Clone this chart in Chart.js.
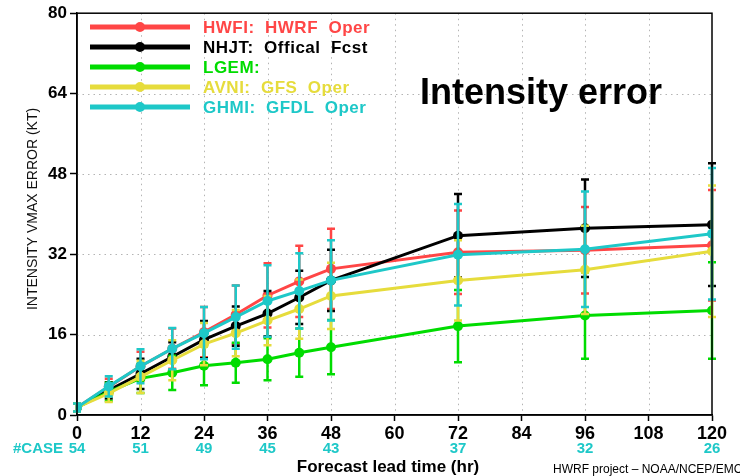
<!DOCTYPE html>
<html>
<head>
<meta charset="utf-8">
<script src="https://cdn.jsdelivr.net/npm/chart.js@4"></script>
<style>
  html, body { margin: 0; padding: 0; background: #fff; }
  #wrap { width: 740px; height: 476px; position: relative; }
</style>
</head>
<body>
<div id="wrap"><canvas id="c" width="740" height="476"></canvas></div>
<script>
// ---- data ----
const hours = [0, 6, 12, 18, 24, 30, 36, 42, 48, 72, 96, 120];

const hwfiMean = [1.5, 5.6, 9.7, 13.2, 16.5, 20.0, 23.8, 26.6, 29.1, 32.4, 32.8, 33.8];
const hwfiErr  = [0.8, 1.6, 2.9, 4.0, 5.0, 5.8, 6.4, 7.1, 8.0, 8.3, 8.6, 11.0];

const nhjtMean = [1.5, 4.9, 8.2, 11.6, 15.0, 17.7, 20.2, 23.4, 26.8, 35.7, 37.2, 37.9];
const nhjtErr  = [0.8, 1.6, 3.0, 2.9, 3.7, 3.9, 4.5, 5.3, 6.1, 8.3, 9.7, 12.2];

const lgemMean = [1.5, 4.6, 7.3, 8.4, 9.8, 10.4, 11.1, 12.4, 13.5, 17.7, 19.8, 20.8];
const lgemErr  = [0.8, 1.8, 2.9, 3.4, 3.9, 4.0, 4.2, 4.8, 5.4, 7.2, 8.6, 9.6];

const avniMean = [1.5, 4.3, 7.6, 10.9, 14.1, 16.3, 18.8, 21.1, 23.7, 26.8, 28.9, 32.6];
const avniErr  = [0.8, 1.7, 3.2, 4.0, 4.2, 4.6, 4.9, 5.9, 6.6, 8.0, 8.8, 13.1];

const ghmiMean = [1.5, 5.7, 9.7, 13.2, 16.3, 19.5, 22.7, 24.7, 26.8, 31.9, 33.0, 36.1];
const ghmiErr  = [0.8, 2.0, 3.4, 4.1, 5.2, 6.3, 7.1, 7.5, 8.0, 10.1, 11.5, 13.1];

const seriesLabels = ['HWFI:  HWRF  Oper', 'NHJT:  Offical  Fcst', 'LGEM:', 'AVNI:  GFS  Oper', 'GHMI:  GFDL  Oper'];
const seriesColors = ['#ff4646', '#000000', '#00dc00', '#e6dc3c', '#1ec8c8'];

const yTickValues = [0, 16, 32, 48, 64, 80];
const xTickValues = [0, 12, 24, 36, 48, 60, 72, 84, 96, 108, 120];

const caseHours  = [0, 12, 24, 36, 48, 72, 96, 120];
const caseCounts = [54, 51, 49, 45, 43, 37, 32, 26];

const titleText  = 'Intensity error';
const xTitleText = 'Forecast lead time (hr)';
const yTitleText = 'INTENSITY VMAX ERROR (KT)';
const caseLabel  = '#CASE';
const creditText = 'HWRF project – NOAA/NCEP/EMC';

// ---- build ----
const means = [hwfiMean, nhjtMean, lgemMean, avniMean, ghmiMean];
const errs  = [hwfiErr, nhjtErr, lgemErr, avniErr, ghmiErr];

const FONT = "'Liberation Sans', Arial, sans-serif";

const datasets = means.map((m, k) => ({
  label: seriesLabels[k],
  data: hours.map((h, i) => ({ x: h, y: m[i] })),
  errors: errs[k],
  borderColor: seriesColors[k],
  backgroundColor: seriesColors[k],
  pointBackgroundColor: seriesColors[k],
  pointBorderWidth: 0,
  pointRadius: 5,
  borderWidth: 3,
  tension: 0,
  order: 5 - k
}));

const gridPlugin = {
  id: 'dotGrid',
  beforeDatasetsDraw(chart) {
    const { ctx, chartArea: a, scales: { x, y } } = chart;
    ctx.save();
    ctx.strokeStyle = '#b4b4b4';
    ctx.lineWidth = 1;
    ctx.setLineDash([1.5, 4]);
    xTickValues.forEach(v => {
      const px = Math.round(x.getPixelForValue(v)) + 0.5;
      if (px <= a.left + 1 || px >= a.right - 1) return;
      ctx.beginPath(); ctx.moveTo(px, a.top); ctx.lineTo(px, a.bottom); ctx.stroke();
    });
    yTickValues.forEach(v => {
      const py = Math.round(y.getPixelForValue(v)) + 0.5;
      if (py <= a.top + 1 || py >= a.bottom - 1) return;
      ctx.beginPath(); ctx.moveTo(a.left, py); ctx.lineTo(a.right, py); ctx.stroke();
    });
    ctx.restore();
  }
};

const errPlugin = {
  id: 'errBars',
  afterDatasetDraw(chart, args) {
    const ds = chart.data.datasets[args.index];
    const meta = args.meta;
    const y = chart.scales.y;
    const { ctx } = chart;
    ctx.save();
    ctx.strokeStyle = ds.borderColor;
    ctx.lineWidth = 2.5;
    meta.data.forEach((pt, i) => {
      const v = ds.data[i].y, e = ds.errors[i];
      const yh = y.getPixelForValue(v + e), yl = y.getPixelForValue(v - e);
      ctx.beginPath();
      ctx.moveTo(pt.x, yh); ctx.lineTo(pt.x, yl);
      ctx.moveTo(pt.x - 4, yh); ctx.lineTo(pt.x + 4, yh);
      ctx.moveTo(pt.x - 4, yl); ctx.lineTo(pt.x + 4, yl);
      ctx.stroke();
    });
    ctx.restore();
  }
};

const decoPlugin = {
  id: 'deco',
  afterDraw(chart) {
    const { ctx, chartArea: a, scales: { x } } = chart;
    ctx.save();
    // frame
    ctx.strokeStyle = '#000';
    ctx.lineWidth = 1.5;
    ctx.setLineDash([]);
    ctx.strokeRect(a.left, a.top, a.right - a.left, a.bottom - a.top);

    // legend
    const rowY = [27, 47, 67, 87, 107];
    seriesLabels.forEach((lab, k) => {
      const yy = rowY[k];
      ctx.strokeStyle = seriesColors[k];
      ctx.lineWidth = 5;
      ctx.beginPath(); ctx.moveTo(90, yy); ctx.lineTo(190, yy); ctx.stroke();
      ctx.fillStyle = seriesColors[k];
      ctx.beginPath(); ctx.arc(140, yy, 5, 0, Math.PI * 2); ctx.fill();
      ctx.font = 'bold 17px ' + FONT;
      ctx.textAlign = 'left';
      ctx.textBaseline = 'middle';
      ctx.letterSpacing = '0.5px';
      ctx.fillText(lab, 203, yy + 1);
    });
    ctx.letterSpacing = '0px';

    // big title
    ctx.fillStyle = '#000';
    ctx.font = 'bold 36px ' + FONT;
    ctx.textAlign = 'left';
    ctx.textBaseline = 'alphabetic';
    ctx.fillText(titleText, 420, 104);

    // case counts
    ctx.fillStyle = '#1ec8c8';
    ctx.font = 'bold 15px ' + FONT;
    ctx.textBaseline = 'middle';
    ctx.textAlign = 'left';
    ctx.fillText(caseLabel, 13, 449);
    ctx.textAlign = 'center';
    caseHours.forEach((h, i) => {
      ctx.fillText(String(caseCounts[i]), x.getPixelForValue(h), 449);
    });

    // x title
    ctx.fillStyle = '#000';
    ctx.font = 'bold 17px ' + FONT;
    ctx.fillText(xTitleText, 388, 467);

    // credit
    ctx.font = '12px ' + FONT;
    ctx.textAlign = 'left';
    ctx.fillText(creditText, 553, 470);

    // y title
    ctx.save();
    ctx.translate(33, 209);
    ctx.rotate(-Math.PI / 2);
    ctx.font = '14px ' + FONT;
    ctx.textAlign = 'center';
    ctx.textBaseline = 'middle';
    ctx.fillStyle = '#111';
    ctx.fillText(yTitleText, 0, 0);
    ctx.restore();

    ctx.restore();
  }
};

new Chart(document.getElementById('c'), {
  type: 'line',
  data: { datasets },
  options: {
    responsive: false,
    animation: false,
    events: [],
    layout: { padding: { top: 12.5, right: 28, left: 0, bottom: 0 } },
    plugins: { legend: { display: false }, tooltip: { enabled: false }, title: { display: false } },
    scales: {
      x: {
        type: 'linear',
        min: 0, max: 120,
        afterFit(s) { s.height = 61; },
        afterBuildTicks(s) { s.ticks = xTickValues.map(v => ({ value: v })); },
        ticks: { color: '#000', font: { family: FONT, size: 18, weight: 'bold' }, padding: 2, maxRotation: 0, autoSkip: false },
        grid: { drawOnChartArea: false, drawTicks: true, tickLength: 6, tickColor: '#000', tickWidth: 1.5 },
        border: { display: true, color: '#000', width: 1.5 }
      },
      y: {
        min: 0, max: 80,
        afterFit(s) { s.width = 77; },
        afterBuildTicks(s) { s.ticks = yTickValues.map(v => ({ value: v })); },
        ticks: { color: '#000', font: { family: FONT, size: 17, weight: 'bold' }, padding: 3 },
        grid: { drawOnChartArea: false, drawTicks: true, tickLength: 7, tickColor: '#000', tickWidth: 1.5 },
        border: { display: true, color: '#000', width: 1.5 }
      }
    }
  },
  plugins: [gridPlugin, errPlugin, decoPlugin]
});
</script>
</body>
</html>
